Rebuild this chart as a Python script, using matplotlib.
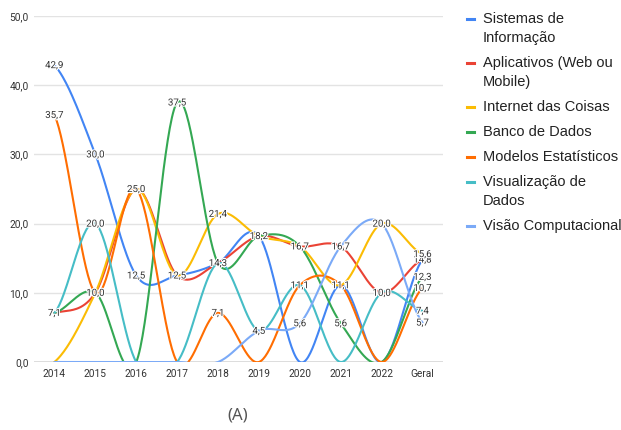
import numpy as np
import matplotlib
matplotlib.use("Agg")
import matplotlib.pyplot as plt
from matplotlib.lines import Line2D
import matplotlib.patheffects as pe

categories = ["2014", "2015", "2016", "2017", "2018", "2019", "2020", "2021", "2022", "Geral"]

series_names = [
    "Sistemas de\nInformação",
    "Aplicativos (Web ou\nMobile)",
    "Internet das Coisas",
    "Banco de Dados",
    "Modelos Estatísticos",
    "Visualização de\nDados",
    "Visão Computacional",
]

sistemas = [42.9, 30.0, 12.5, 12.5, 14.3, 18.2, 0.0, 11.1, 0.0, 14.8]
aplicativos = [7.1, 10.0, 25.0, 12.5, 14.3, 18.2, 16.7, 16.7, 10.0, 14.8]
iot = [0.0, 10.0, 25.0, 12.5, 21.4, 18.2, 16.7, 11.1, 20.0, 15.6]
banco = [7.1, 10.0, 0.0, 37.5, 14.3, 18.2, 16.7, 5.6, 0.0, 12.3]
modelos = [35.7, 10.0, 25.0, 0.0, 7.1, 0.0, 11.1, 11.1, 0.0, 10.7]
visualizacao = [7.1, 20.0, 0.0, 0.0, 14.3, 4.5, 11.1, 0.0, 10.0, 7.4]
visao = [0.0, 0.0, 0.0, 0.0, 0.0, 4.5, 5.6, 16.7, 20.0, 5.7]

all_series = [sistemas, aplicativos, iot, banco, modelos, visualizacao, visao]
colors = ["#4285F4", "#EA4335", "#FBBC04", "#34A853", "#FF6D01", "#46BDC6", "#7BAAF7"]

y_ticks = [0, 10, 20, 30, 40, 50]


def smooth(values, samples=40):
    """Catmull-Rom style cubic Hermite curve through the points."""
    y = np.asarray(values, dtype=float)
    n = len(y)
    m = np.zeros(n)
    for i in range(n):
        lo = y[max(i - 1, 0)]
        hi = y[min(i + 1, n - 1)]
        m[i] = (hi - lo) / 2.0
    xs, ys = [], []
    t = np.linspace(0, 1, samples)
    for i in range(n - 1):
        h00 = 2 * t**3 - 3 * t**2 + 1
        h10 = t**3 - 2 * t**2 + t
        h01 = -2 * t**3 + 3 * t**2
        h11 = t**3 - t**2
        seg = h00 * y[i] + h10 * m[i] + h01 * y[i + 1] + h11 * m[i + 1]
        xs.append(i + t)
        ys.append(seg)
    return np.concatenate(xs), np.concatenate(ys)


fig = plt.figure(figsize=(6.21, 4.30), dpi=100)
ax = fig.add_axes([34 / 621, 68 / 430, 409 / 621, 346 / 430])

for v in y_ticks[1:]:
    ax.axhline(v, color="#e3e3e3", linewidth=1.0, zorder=0)
ax.axhline(0, color="#555555", linewidth=1.0, zorder=1)

for vals, col in zip(all_series, colors):
    xs, ys = smooth(vals)
    ax.plot(xs, ys, color=col, linewidth=1.5, solid_capstyle="round", zorder=2)

# value labels, one per distinct value at each category, zeros omitted
halo = [pe.withStroke(linewidth=1.6, foreground="white")]
for i in range(len(categories)):
    seen = set()
    for vals in all_series:
        v = vals[i]
        if v == 0 or v in seen:
            continue
        seen.add(v)
        ax.text(i, v, f"{v:.1f}".replace(".", ","), ha="center", va="center",
                fontsize=7, color="#333333", family="Roboto",
                path_effects=halo, zorder=5)

ax.set_xlim(-0.5, len(categories) - 0.5)
ax.set_ylim(0, 50)
ax.set_xticks(range(len(categories)))
ax.set_xticklabels(categories, family="Roboto", fontsize=7.3, color="#333333")
ax.set_yticks(y_ticks)
ax.set_yticklabels([f"{v:.1f}".replace(".", ",") for v in y_ticks],
                   family="Roboto", fontsize=7.3, color="#333333")
ax.tick_params(axis="y", length=0, pad=4)
ax.tick_params(axis="x", length=0, pad=5)
for s in ax.spines.values():
    s.set_visible(False)

# legend drawn entry by entry
W, H = 621, 430
y_pos = 19
for name, col in zip(series_names, colors):
    lines = name.split("\n")
    fig.add_artist(Line2D([467 / W, 474 / W], [1 - y_pos / H, 1 - y_pos / H],
                          color=col, linewidth=2.2, transform=fig.transFigure))
    for k, line in enumerate(lines):
        fig.text(483 / W, 1 - (y_pos + k * 19) / H, line, ha="left", va="center",
                 fontsize=10.5, color="#222222", family="Liberation Sans")
    y_pos += 19 * (len(lines) - 1) + 25

fig.text(238 / W, 1 - 415 / H, "(A)", ha="center", va="center",
         fontsize=12, color="#555555", family="Noto Sans", fontweight="light")

fig.savefig("out.png", dpi=100, facecolor="white")
